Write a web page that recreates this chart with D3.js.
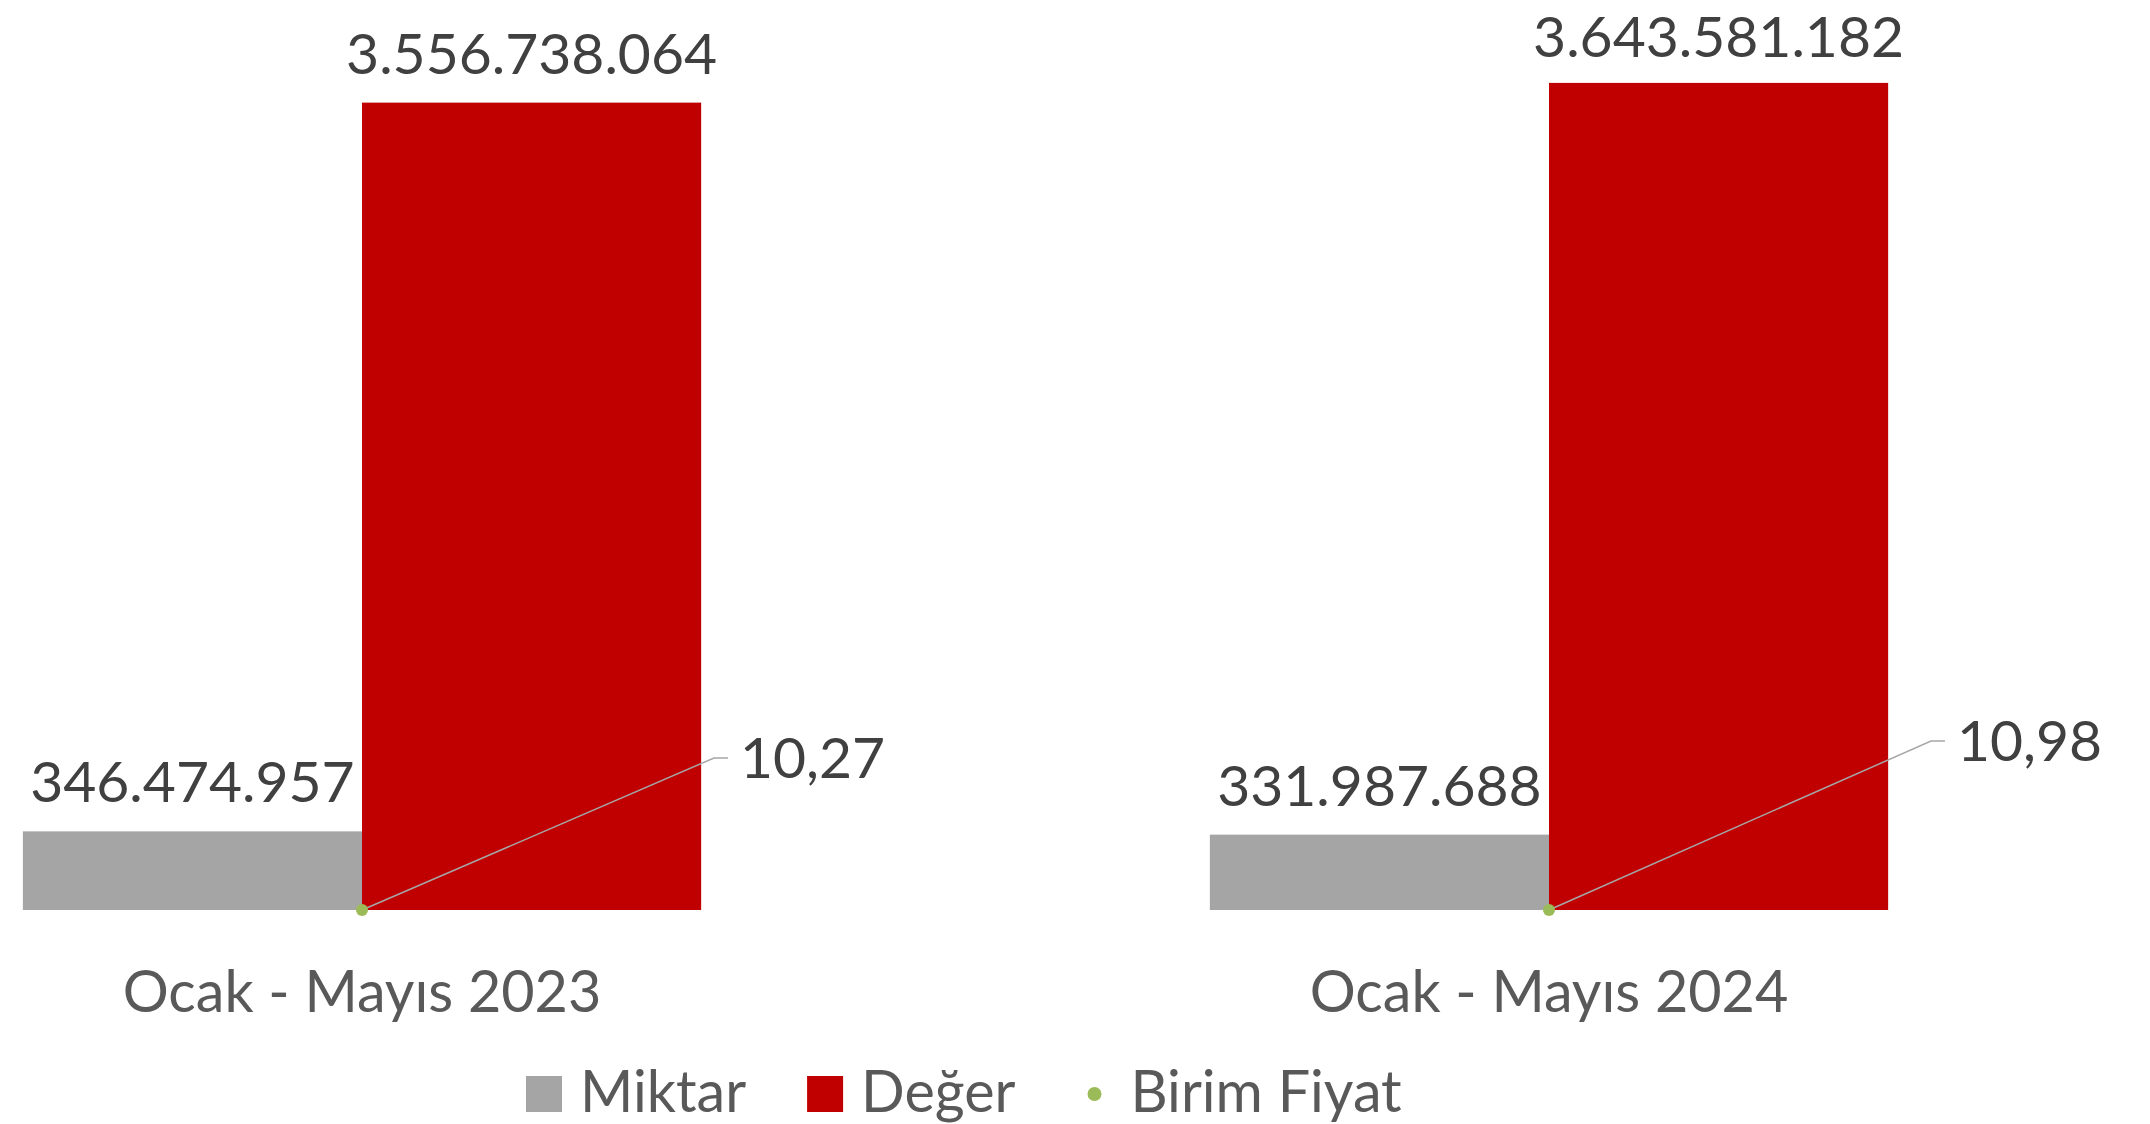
<!DOCTYPE html>
<html>
<head>
<meta charset="utf-8">
<script src="https://cdn.jsdelivr.net/npm/d3@7"></script>
<style>
  body { margin: 0; background: #fff; }
  svg { display: block; font-family: Lato, "Open Sans", sans-serif; }
</style>
</head>
<body>
<svg width="2150" height="1124"></svg>
<script>
// data
const categories = ["Ocak - Mayıs 2023", "Ocak - Mayıs 2024"]
const miktar = [346474957, 331987688]
const deger = [3556738064, 3643581182]
const birimFiyat = [10.27, 10.98]
const seriesNames = ["Miktar", "Değer", "Birim Fiyat"]

const colors = { Miktar: "#A5A5A5", "Değer": "#C00000", "Birim Fiyat": "#9BBB59" }

// where the price labels sit relative to their point
const priceLabelOffset = [[378, -132], [408, -149]]

const loc = d3.formatLocale({ decimal: ",", thousands: ".", grouping: [3] })
const fmtInt = loc.format(",d")
const fmtDec = loc.format(",.2f")

const svg = d3.select("svg")
const baseY = 910
const labelSize = 57

const x0 = d3.scaleBand()
  .domain(categories)
  .range([-231.5, 2142.5])
  .padding(0)

const x1 = d3.scaleBand()
  .domain(["Miktar", "Değer"])
  .range([0, x0.bandwidth()])
  .paddingInner(0)
  .paddingOuter(0.75)

const y = d3.scaleLinear()
  .domain([0, 4e9])
  .range([baseY, 2])

const rows = categories.map((c, i) => ({
  cat: c,
  bars: [
    { key: "Miktar", value: miktar[i] },
    { key: "Değer", value: deger[i] }
  ],
  price: birimFiyat[i],
  off: priceLabelOffset[i]
}))

const groups = svg.selectAll("g.cat")
  .data(rows)
  .join("g")
  .attr("class", "cat")
  .attr("transform", d => `translate(${x0(d.cat)},0)`)

groups.selectAll("rect")
  .data(d => d.bars)
  .join("rect")
  .attr("x", d => x1(d.key))
  .attr("y", d => y(d.value))
  .attr("width", x1.bandwidth())
  .attr("height", d => y(0) - y(d.value))
  .attr("fill", d => colors[d.key])

// value labels, kept inside the top edge
groups.selectAll("text.val")
  .data(d => d.bars)
  .join("text")
  .attr("class", "val")
  .attr("x", d => x1(d.key) + x1.bandwidth() / 2)
  .attr("y", d => Math.max(y(d.value) - 29, labelSize))
  .attr("text-anchor", "middle")
  .attr("font-size", labelSize)
  .attr("fill", "#404040")
  .text(d => fmtInt(d.value))

// birim fiyat points + leader lines + labels
rows.forEach(d => {
  const cx = x0(d.cat) + x0.bandwidth() / 2
  const cy = y(d.price)
  const lx = cx + d.off[0]
  const ly = cy + d.off[1]
  const midY = ly - 20
  svg.append("path")
    .attr("d", `M${cx},${cy}L${lx - 26},${midY}L${lx - 12},${midY}`)
    .attr("fill", "none")
    .attr("stroke", "#A6A6A6")
    .attr("stroke-width", 1.5)
  svg.append("circle")
    .attr("cx", cx)
    .attr("cy", cy)
    .attr("r", 6)
    .attr("fill", colors["Birim Fiyat"])
  svg.append("text")
    .attr("x", lx)
    .attr("y", ly)
    .attr("font-size", labelSize)
    .attr("fill", "#404040")
    .text(fmtDec(d.price))
})

// category labels
svg.selectAll("text.cat")
  .data(categories)
  .join("text")
  .attr("class", "cat")
  .attr("x", d => x0(d) + x0.bandwidth() / 2)
  .attr("y", 1012)
  .attr("text-anchor", "middle")
  .attr("font-size", 57.5)
  .attr("fill", "#595959")
  .text(d => d)

// legend
const legend = svg.append("g")
let lxPos = 526
seriesNames.forEach(name => {
  const g = legend.append("g").attr("transform", `translate(${lxPos},0)`)
  if (name === "Birim Fiyat") {
    g.append("circle").attr("cx", 18).attr("cy", 1094).attr("r", 7).attr("fill", colors[name])
  } else {
    g.append("rect").attr("x", 0).attr("y", 1076).attr("width", 36).attr("height", 36).attr("fill", colors[name])
  }
  const t = g.append("text")
    .attr("x", 54)
    .attr("y", 1112)
    .attr("font-size", 57.5)
    .attr("fill", "#595959")
    .text(name)
  lxPos += 54 + t.node().getComputedTextLength() + 61
})
</script>
</body>
</html>
